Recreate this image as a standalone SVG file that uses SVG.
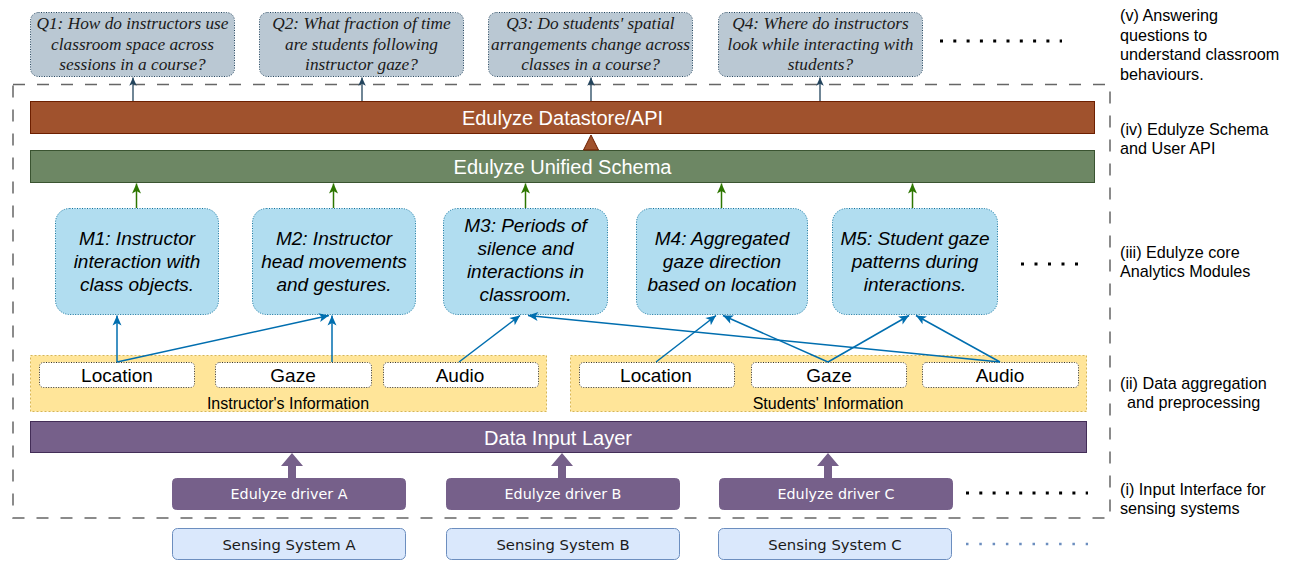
<svg xmlns="http://www.w3.org/2000/svg" width="1290" height="561" viewBox="0 0 1290 561">
<defs>
<style>
.q{fill:#bac8d3;stroke:#23445d;stroke-width:1;stroke-dasharray:1 1.5}
.qt{font-family:"Liberation Serif",serif;font-style:italic;font-size:17.3px;fill:#1a1a1a;text-anchor:middle}
.m{fill:#b1ddf0;stroke:#10739e;stroke-width:1;stroke-dasharray:1 1.5}
.mt{font-family:"Liberation Sans",Arial,sans-serif;font-style:italic;font-size:19px;fill:#000;text-anchor:middle}
.bar{font-family:"Liberation Sans",Arial,sans-serif;font-size:20px;fill:#fff;text-anchor:middle}
.area{fill:#ffe599;stroke:#d6b656;stroke-width:1;stroke-dasharray:2 2}
.src{fill:#fff;stroke:#333;stroke-width:1;stroke-dasharray:1 1.5}
.st{font-family:"Liberation Sans",Arial,sans-serif;font-size:19px;fill:#000;text-anchor:middle}
.at{font-family:"Liberation Sans",Arial,sans-serif;font-size:16px;fill:#000;text-anchor:middle}
.drv{fill:#76608a;stroke:#76608a}
.dt{font-family:"DejaVu Sans",Verdana,sans-serif;font-size:14.3px;fill:#fff;text-anchor:middle}
.sens{fill:#dae8fc;stroke:#6c8ebf;stroke-width:1}
.sst{font-family:"DejaVu Sans",Verdana,sans-serif;font-size:14.8px;fill:#1a1a1a;text-anchor:middle}
.lab{font-family:"Liberation Sans",Arial,sans-serif;font-size:16.2px;fill:#000}
.blue{stroke:#006eaf;stroke-width:1.5;fill:none;marker-end:url(#ab)}
.green{stroke:#2d7600;stroke-width:1.5;fill:none;marker-end:url(#ag)}
.dark{stroke:#23445d;stroke-width:1.3;fill:none;marker-end:url(#ad)}
</style>
<marker id="ab" markerUnits="userSpaceOnUse" markerWidth="12" markerHeight="12" viewBox="0 0 12 12" refX="11" refY="6" orient="auto"><path d="M1,1.5 L11,6 L1,10.5 L3.5,6 Z" fill="#006eaf"/></marker>
<marker id="ag" markerUnits="userSpaceOnUse" markerWidth="12" markerHeight="12" viewBox="0 0 12 12" refX="11" refY="6" orient="auto"><path d="M1,1.5 L11,6 L1,10.5 L3.5,6 Z" fill="#2d7600"/></marker>
<marker id="ad" markerUnits="userSpaceOnUse" markerWidth="10" markerHeight="10" viewBox="0 0 12 12" refX="11" refY="6" orient="auto"><path d="M1,1.5 L11,6 L1,10.5 L3.5,6 Z" fill="#23445d"/></marker>
</defs>
<rect width="1290" height="561" fill="#fff"/>

<!-- outer dashed boundary -->
<rect x="13" y="84.5" width="1097" height="433.5" fill="none" stroke="#666" stroke-width="1.5" stroke-dasharray="12 12"/>

<!-- questions -->
<g id="q1"><rect class="q" x="30.5" y="12.5" width="204" height="64" rx="8"/>
<text class="qt" x="132.5" y="29">Q1: How do instructors use</text><text class="qt" x="132.5" y="50">classroom space across</text><text class="qt" x="132.5" y="70">sessions in a course?</text></g>
<g id="q2"><rect class="q" x="259.5" y="12.5" width="204" height="64" rx="8"/>
<text class="qt" x="361.5" y="29">Q2: What fraction of time</text><text class="qt" x="361.5" y="50">are students following</text><text class="qt" x="361.5" y="70">instructor gaze?</text></g>
<g id="q3"><rect class="q" x="488.5" y="12.5" width="204" height="64" rx="8"/>
<text class="qt" x="590.5" y="29">Q3: Do students' spatial</text><text class="qt" x="590.5" y="50">arrangements change across</text><text class="qt" x="590.5" y="70">classes in a course?</text></g>
<g id="q4"><rect class="q" x="718.5" y="12.5" width="204" height="64" rx="8"/>
<text class="qt" x="820.5" y="29">Q4: Where do instructors</text><text class="qt" x="820.5" y="50">look while interacting with</text><text class="qt" x="820.5" y="70">students?</text></g>

<!-- bars -->
<g id="datastore"><rect x="30.5" y="101.5" width="1064" height="32" fill="#a0522d" stroke="#6d1f00"/>
<text class="bar" x="562.5" y="124.5">Edulyze Datastore/API</text></g>
<g id="schema"><rect x="30.5" y="150.5" width="1064" height="32" fill="#6d8764" stroke="#3a5431"/>
<text class="bar" x="562.5" y="174">Edulyze Unified Schema</text></g>

<!-- modules -->
<g id="m1"><rect class="m" x="55.5" y="208.5" width="163" height="106" rx="14"/>
<text class="mt" x="137" y="245">M1: Instructor</text><text class="mt" x="137" y="268">interaction with</text><text class="mt" x="137" y="291">class objects.</text></g>
<g id="m2"><rect class="m" x="252.5" y="208.5" width="163" height="106" rx="14"/>
<text class="mt" x="334" y="245">M2: Instructor</text><text class="mt" x="334" y="268">head movements</text><text class="mt" x="334" y="291">and gestures.</text></g>
<g id="m3"><rect class="m" x="443.5" y="208.5" width="164" height="106" rx="14"/>
<text class="mt" x="525.5" y="232">M3: Periods of</text><text class="mt" x="525.5" y="255">silence and</text><text class="mt" x="525.5" y="278">interactions in</text><text class="mt" x="525.5" y="301">classroom.</text></g>
<g id="m4"><rect class="m" x="636.5" y="208.5" width="171" height="106" rx="14"/>
<text class="mt" x="722" y="245">M4: Aggregated</text><text class="mt" x="722" y="268">gaze direction</text><text class="mt" x="722" y="291">based on location</text></g>
<g id="m5"><rect class="m" x="832.5" y="208.5" width="165" height="106" rx="14"/>
<text class="mt" x="915" y="245">M5: Student gaze</text><text class="mt" x="915" y="268">patterns during</text><text class="mt" x="915" y="291">interactions.</text></g>

<!-- info areas -->
<g id="instructor-info"><rect class="area" x="30.5" y="355.5" width="516" height="56"/>
<text class="at" x="288" y="409">Instructor's Information</text></g>
<g id="i-location"><rect class="src" x="39.5" y="362.5" width="155" height="25" rx="4"/><text class="st" x="117" y="382">Location</text></g>
<g id="i-gaze"><rect class="src" x="215.5" y="362.5" width="156" height="25" rx="4"/><text class="st" x="293" y="382">Gaze</text></g>
<g id="i-audio"><rect class="src" x="383.5" y="362.5" width="155" height="25" rx="4"/><text class="st" x="460" y="382">Audio</text></g>
<g id="students-info"><rect class="area" x="570.5" y="355.5" width="516" height="56"/>
<text class="at" x="828" y="409">Students' Information</text></g>
<g id="s-location"><rect class="src" x="579.5" y="362.5" width="155" height="25" rx="4"/><text class="st" x="656" y="382">Location</text></g>
<g id="s-gaze"><rect class="src" x="751.5" y="362.5" width="155" height="25" rx="4"/><text class="st" x="829" y="382">Gaze</text></g>
<g id="s-audio"><rect class="src" x="922.5" y="362.5" width="156" height="25" rx="4"/><text class="st" x="1000" y="382">Audio</text></g>

<!-- data input layer -->
<g id="data-input"><rect x="30.5" y="421.5" width="1056" height="31" fill="#76608a" stroke="#432d57"/>
<text class="bar" x="558" y="444.5">Data Input Layer</text></g>

<!-- drivers -->
<g id="driver-a"><rect class="drv" x="172.5" y="478.5" width="233" height="31" rx="4"/><text class="dt" x="289" y="499">Edulyze driver A</text></g>
<g id="driver-b"><rect class="drv" x="446.5" y="478.5" width="233" height="31" rx="4"/><text class="dt" x="563" y="499">Edulyze driver B</text></g>
<g id="driver-c"><rect class="drv" x="719.5" y="478.5" width="233" height="31" rx="4"/><text class="dt" x="836" y="499">Edulyze driver C</text></g>

<!-- sensing -->
<g id="sensing-a"><rect class="sens" x="172.5" y="528.5" width="233" height="31" rx="5"/><text class="sst" x="289" y="549.5">Sensing System A</text></g>
<g id="sensing-b"><rect class="sens" x="446.5" y="528.5" width="233" height="31" rx="5"/><text class="sst" x="563" y="549.5">Sensing System B</text></g>
<g id="sensing-c"><rect class="sens" x="718.5" y="528.5" width="233" height="31" rx="5"/><text class="sst" x="835" y="549.5">Sensing System C</text></g>

<!-- connectors -->
<g id="connectors">
<line class="dark" x1="133" y1="101" x2="133" y2="77.5"/>
<line class="dark" x1="362" y1="101" x2="362" y2="77.5"/>
<line class="dark" x1="591" y1="101" x2="591" y2="77.5"/>
<line class="dark" x1="820" y1="101" x2="820" y2="77.5"/>
<polygon points="591,135 583.5,150 598.5,150" fill="#a0522d" stroke="#6d1f00" stroke-width="1"/>
<line class="green" x1="136.5" y1="208" x2="136.5" y2="183.5"/>
<line class="green" x1="333.5" y1="208" x2="333.5" y2="183.5"/>
<line class="green" x1="525.5" y1="208" x2="525.5" y2="183.5"/>
<line class="green" x1="721.5" y1="208" x2="721.5" y2="183.5"/>
<line class="green" x1="912.5" y1="208" x2="912.5" y2="183.5"/>
<line class="blue" x1="117" y1="362" x2="117" y2="315.5"/>
<line class="blue" x1="117" y1="362" x2="329" y2="315.5"/>
<line class="blue" x1="332" y1="362" x2="332" y2="315.5"/>
<line class="blue" x1="459" y1="362" x2="520" y2="315.5"/>
<line class="blue" x1="1000" y1="362" x2="528" y2="315.5"/>
<line class="blue" x1="656" y1="362" x2="716" y2="315.5"/>
<line class="blue" x1="828" y1="362" x2="723" y2="315.5"/>
<line class="blue" x1="828" y1="362" x2="909" y2="315.5"/>
<line class="blue" x1="1000" y1="362" x2="916" y2="315.5"/>
<polygon points="288,478 288,466 281,466 292,453 303,466 296,466 296,478" fill="#76608a"/>
<polygon points="558,478 558,466 551,466 562,453 573,466 566,466 566,478" fill="#76608a"/>
<polygon points="824,478 824,466 817,466 828,453 839,466 832,466 832,478" fill="#76608a"/>
</g>

<!-- ellipsis dots -->
<line x1="940" y1="41" x2="1062" y2="41" stroke="#000" stroke-width="3" stroke-dasharray="3 10.3"/>
<line x1="1021" y1="264" x2="1078" y2="264" stroke="#000" stroke-width="3" stroke-dasharray="3 10.5"/>
<line x1="966" y1="493" x2="1088" y2="493" stroke="#000" stroke-width="3" stroke-dasharray="3 10.3"/>
<line x1="966" y1="544" x2="1088" y2="544" stroke="#6c8ebf" stroke-width="2.5" stroke-dasharray="2.5 10.8"/>

<!-- right labels -->
<g id="labels">
<text class="lab" x="1120" y="21">(v) Answering</text>
<text class="lab" x="1120" y="40.5">questions to</text>
<text class="lab" x="1120" y="60">understand classroom</text>
<text class="lab" x="1120" y="79.5">behaviours.</text>
<text class="lab" x="1120" y="135">(iv) Edulyze Schema</text>
<text class="lab" x="1120" y="154">and User API</text>
<text class="lab" x="1120" y="257.5">(iii) Edulyze core</text>
<text class="lab" x="1120" y="277">Analytics Modules</text>
<text class="lab" x="1120" y="388.5">(ii) Data aggregation</text>
<text class="lab" x="1127" y="408">and preprocessing</text>
<text class="lab" x="1120" y="495">(i) Input Interface for</text>
<text class="lab" x="1120" y="514">sensing systems</text>
</g>
</svg>
